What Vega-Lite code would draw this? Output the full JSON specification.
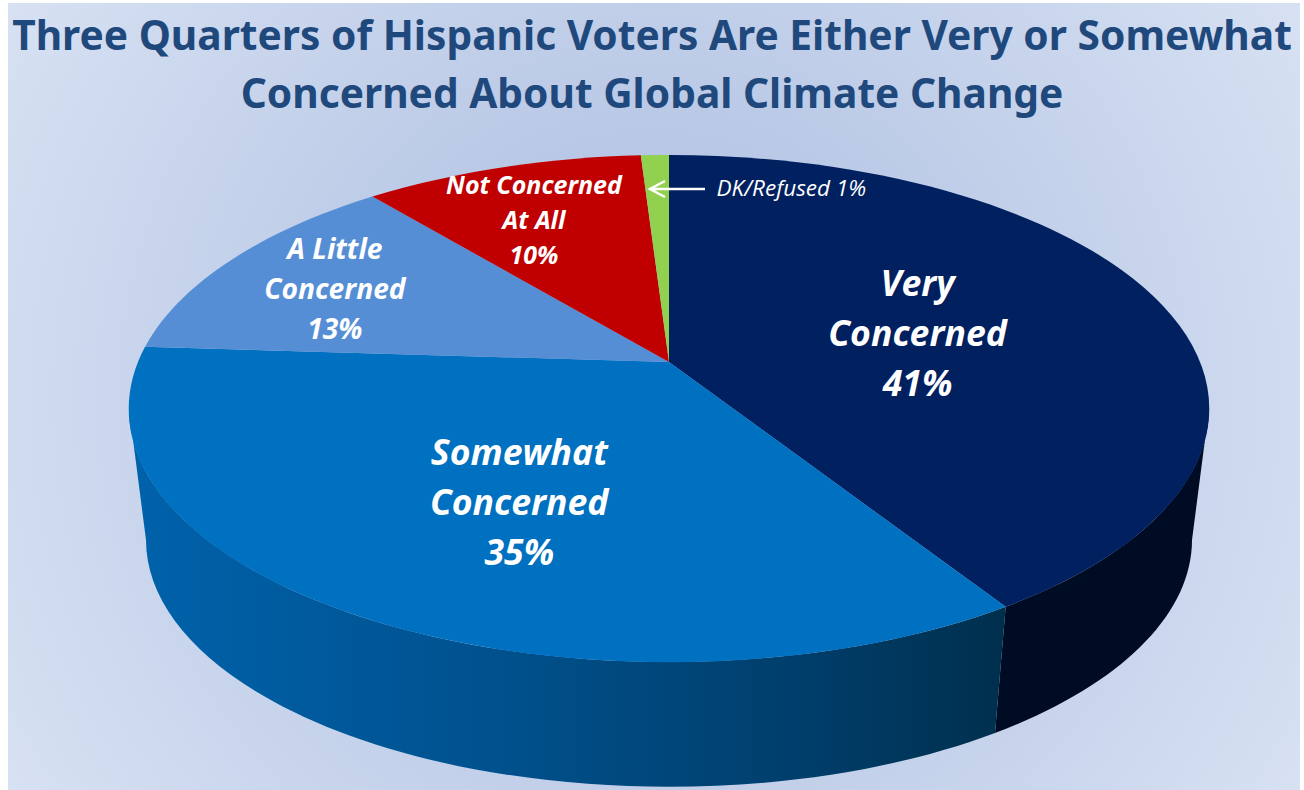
{
"$schema":"https://vega.github.io/schema/vega-lite/v6.json",
"width":1304,"height":790,"padding":0,"autosize":{"type":"none"},"background":"white",
"title":{"text":["Three Quarters of Hispanic Voters Are Either Very or Somewhat","Concerned About Global Climate Change"],"anchor":"middle","frame":"group","font":"Noto Sans","fontSize":40.7,"fontWeight":"bold","color":"#1f497d","lineHeight":58,"baseline":"middle","offset":0,"dy":137},
"config":{"view":{"stroke":null}},
"data":{"values":[
{"category":"Very Concerned","share":41,"label":"Very\nConcerned\n41%"},
{"category":"Somewhat Concerned","share":35,"label":"Somewhat\nConcerned\n35%"},
{"category":"A Little Concerned","share":13,"label":"A Little\nConcerned\n13%"},
{"category":"Not Concerned At All","share":10,"label":"Not Concerned\nAt All\n10%"},
{"category":"DK/Refused","share":1,"label":"DK/Refused 1%"}
]},
"transform":[
{"window":[{"op":"sum","field":"share","as":"cum"}]},
{"calculate":"(datum.cum-datum.share)/100*2*PI","as":"t0"},
{"calculate":"datum.cum/100*2*PI","as":"t1"},
{"calculate":"(datum.t0+datum.t1)/2","as":"tm"},
{"calculate":"round(100*531*sin(datum.t0)/(1+0.1834*cos(datum.t0)))/100","as":"x0"},
{"calculate":"round(-100*245*cos(datum.t0)/(1+0.1834*cos(datum.t0)))/100","as":"y0"},
{"calculate":"round(100*531*sin(datum.t1)/(1+0.1834*cos(datum.t1)))/100","as":"x1"},
{"calculate":"round(-100*245*cos(datum.t1)/(1+0.1834*cos(datum.t1)))/100","as":"y1"},
{"calculate":"669","as":"apex_x"},
{"calculate":"362","as":"apex_y"},
{"calculate":"669+531*0.5*sin(datum.tm)/(1+0.1834*0.5*cos(datum.tm))","as":"label_x"},
{"calculate":"362-245*0.5*cos(datum.tm)/(1+0.1834*0.5*cos(datum.tm))","as":"label_y"},
{"calculate":"'M0,0L'+datum.x0+','+datum.y0+'A540,253.5 0 0 1 '+datum.x1+','+datum.y1+'Z'","as":"wedge"},
{"calculate":"datum.category==='Very Concerned'?'M'+datum.x1+','+datum.y1+'A540,253.5 0 0 0 540,46.5L523,178A523,247 0 0 1 '+round(datum.x1*0.9685)+','+round(178+(datum.y1-46.5)*0.9744)+'Z':'M'+datum.x0+','+datum.y0+'A540,253.5 0 0 1 -540,46.5L-523,178A523,247 0 0 0 '+round(datum.x0*0.9685)+','+round(178+(datum.y0-46.5)*0.9744)+'Z'","as":"wall"}
],
"layer":[
{"data":{"values":[{"panel":"background"}]},"transform":[],
 "mark":{"type":"rect","fill":{"gradient":"radial","x1":0.5,"y1":0.5,"r1":0,"x2":0.5,"y2":0.5,"r2":0.6,"stops":[{"offset":0,"color":"#a9bbdf"},{"offset":1,"color":"#d8e2f3"}]}},
 "encoding":{"x":{"datum":8,"type":"quantitative","scale":{"domain":[0,1304]},"axis":null},"x2":{"datum":1300},"y":{"datum":3,"type":"quantitative","scale":{"domain":[0,790],"reverse":true},"axis":null},"y2":{"datum":790}}},
{"transform":[{"filter":"datum.category==='Very Concerned'"}],
 "mark":{"type":"point","filled":true,"opacity":1,"size":4,"fill":"#000b24"},
 "encoding":{"x":{"field":"apex_x","type":"quantitative","scale":{"domain":[0,1304]},"axis":null},"y":{"field":"apex_y","type":"quantitative","scale":{"domain":[0,790],"reverse":true},"axis":null},"shape":{"field":"wall","type":"nominal","scale":null}}},
{"transform":[{"filter":"datum.category==='Somewhat Concerned'"}],
 "mark":{"type":"point","filled":true,"opacity":1,"size":4,"fill":{"gradient":"linear","x1":0,"y1":0,"x2":1,"y2":0,"stops":[{"offset":0,"color":"#0062ab"},{"offset":0.4,"color":"#00528f"},{"offset":0.75,"color":"#003f6d"},{"offset":1,"color":"#002f4d"}]}},
 "encoding":{"x":{"field":"apex_x","type":"quantitative","scale":{"domain":[0,1304]},"axis":null},"y":{"field":"apex_y","type":"quantitative","scale":{"domain":[0,790],"reverse":true},"axis":null},"shape":{"field":"wall","type":"nominal","scale":null}}},
{"mark":{"type":"point","filled":true,"opacity":1,"size":4},
 "encoding":{"x":{"field":"apex_x","type":"quantitative","scale":{"domain":[0,1304]},"axis":null},"y":{"field":"apex_y","type":"quantitative","scale":{"domain":[0,790],"reverse":true},"axis":null},"shape":{"field":"wedge","type":"nominal","scale":null},
 "color":{"field":"category","type":"nominal","legend":null,"scale":{"domain":["Very Concerned","Somewhat Concerned","A Little Concerned","Not Concerned At All","DK/Refused"],"range":["#002060","#0070c0","#558ed5","#c00000","#92d050"]}}}},
{"transform":[{"filter":"datum.category==='Very Concerned'"}],
 "mark":{"type":"text","font":"Open Sans","fontSize":35.6,"fontWeight":"bold","fontStyle":"italic","color":"white","lineBreak":"\n","lineHeight":50,"baseline":"middle","dx":0,"dy":-44},
 "encoding":{"x":{"field":"label_x","type":"quantitative","scale":{"domain":[0,1304]},"axis":null},"y":{"field":"label_y","type":"quantitative","scale":{"domain":[0,790],"reverse":true},"axis":null},"text":{"field":"label"}}},
{"transform":[{"filter":"datum.category==='Somewhat Concerned'"}],
 "mark":{"type":"text","font":"Open Sans","fontSize":35.6,"fontWeight":"bold","fontStyle":"italic","color":"white","lineBreak":"\n","lineHeight":50,"baseline":"middle","dx":-3,"dy":-22},
 "encoding":{"x":{"field":"label_x","type":"quantitative","scale":{"domain":[0,1304]},"axis":null},"y":{"field":"label_y","type":"quantitative","scale":{"domain":[0,790],"reverse":true},"axis":null},"text":{"field":"label"}}},
{"transform":[{"filter":"datum.category==='A Little Concerned'"}],
 "mark":{"type":"text","font":"Open Sans","fontSize":28.2,"fontWeight":"bold","fontStyle":"italic","color":"white","lineBreak":"\n","lineHeight":40,"baseline":"middle","dx":-107,"dy":-58},
 "encoding":{"x":{"field":"label_x","type":"quantitative","scale":{"domain":[0,1304]},"axis":null},"y":{"field":"label_y","type":"quantitative","scale":{"domain":[0,790],"reverse":true},"axis":null},"text":{"field":"label"}}},
{"transform":[{"filter":"datum.category==='Not Concerned At All'"}],
 "mark":{"type":"text","font":"Open Sans","fontSize":25,"fontWeight":"bold","fontStyle":"italic","color":"white","lineBreak":"\n","lineHeight":35,"baseline":"middle","dx":-45,"dy":-71},
 "encoding":{"x":{"field":"label_x","type":"quantitative","scale":{"domain":[0,1304]},"axis":null},"y":{"field":"label_y","type":"quantitative","scale":{"domain":[0,790],"reverse":true},"axis":null},"text":{"field":"label"}}},
{"transform":[{"filter":"datum.category==='DK/Refused'"}],
 "mark":{"type":"text","font":"Open Sans","fontSize":22.5,"fontStyle":"italic","color":"white","baseline":"middle","dx":130,"dy":-61},
 "encoding":{"x":{"field":"label_x","type":"quantitative","scale":{"domain":[0,1304]},"axis":null},"y":{"field":"label_y","type":"quantitative","scale":{"domain":[0,790],"reverse":true},"axis":null},"text":{"field":"label"}}},
{"data":{"values":[{"note":"arrow"}]},"transform":[],
 "mark":{"type":"point","filled":false,"opacity":1,"size":4,"stroke":"white","strokeWidth":2.5,"shape":"M15,-8L0,0L15,8M0,0L55,0"},
 "encoding":{"x":{"datum":650,"type":"quantitative","scale":{"domain":[0,1304]},"axis":null},"y":{"datum":189,"type":"quantitative","scale":{"domain":[0,790],"reverse":true},"axis":null}}}
]
}
